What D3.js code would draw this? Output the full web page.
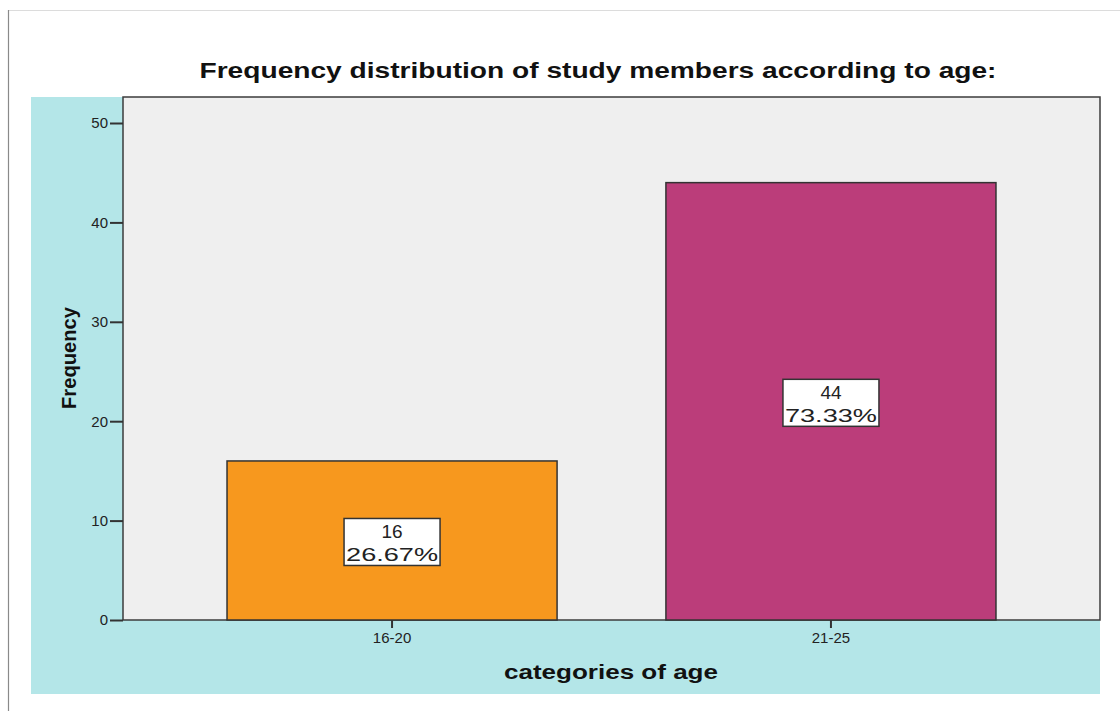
<!DOCTYPE html>
<html><head><meta charset="utf-8">
<script src="https://cdn.jsdelivr.net/npm/d3@7"></script>
<style>html,body{margin:0;padding:0;background:#fff;}svg{display:block;}</style>
</head><body>
<script>
const categories = ["16-20", "21-25"];
const counts = [16, 44];
const percents = ["26.67%", "73.33%"];
const barColors = ["#f7981e", "#bb3d7a"];
const yTicks = [0, 10, 20, 30, 40, 50];
const titleText = "Frequency distribution of study members according to age:";
const xLabel = "categories of age";
const yLabel = "Frequency";

const W = 1120, H = 711;
const svg = d3.select("body").append("svg").attr("width", W).attr("height", H);
const font = "Liberation Sans, Arial, sans-serif";

// outer frame lines
svg.append("line").attr("x1", 8).attr("x2", W).attr("y1", 10.5).attr("y2", 10.5).attr("stroke", "#dcdcdc").attr("stroke-width", 1);
svg.append("line").attr("x1", 8.5).attr("x2", 8.5).attr("y1", 10).attr("y2", H).attr("stroke", "#8a8a8a").attr("stroke-width", 1.2);

// cyan background
svg.append("rect").attr("x", 31).attr("y", 97).attr("width", 1100 - 31).attr("height", 694 - 97).attr("fill", "#b4e6e8");

const plot = {l: 123, r: 1100, t: 97, b: 620};
const y = d3.scaleLinear().domain([0, 50]).range([620, 123]);
const x = d3.scaleBand().domain(categories).range([plot.l, plot.r]).paddingInner(0.248).paddingOuter(0.237);

// plot area
svg.append("rect").attr("x", plot.l).attr("y", plot.t).attr("width", plot.r - plot.l).attr("height", plot.b - plot.t)
  .attr("fill", "#efefef").attr("stroke", "#3c3c3c").attr("stroke-width", 1.5);

// bars
svg.selectAll("rect.bar").data(categories).enter().append("rect").attr("class", "bar")
  .attr("x", d => x(d)).attr("width", x.bandwidth())
  .attr("y", (d, i) => y(counts[i])).attr("height", (d, i) => y(0) - y(counts[i]))
  .attr("fill", (d, i) => barColors[i]).attr("stroke", "#333").attr("stroke-width", 1.5);

// labels
categories.forEach((c, i) => {
  const cx = x(c) + x.bandwidth() / 2;
  const cy = (y(counts[i]) + y(0)) / 2;
  const g = svg.append("g");
  g.append("rect").attr("x", cx - 48).attr("y", cy - 22).attr("width", 96).attr("height", 47)
    .attr("fill", "#fff").attr("stroke", "#333").attr("stroke-width", 1.5);
  g.append("text").attr("x", cx).attr("y", cy - 2).attr("text-anchor", "middle")
    .attr("font-family", font).attr("font-size", 19).attr("fill", "#222").text(counts[i]);
  g.append("text").attr("x", cx).attr("y", cy + 20.5).attr("text-anchor", "middle")
    .attr("font-family", font).attr("font-size", 19).attr("fill", "#222")
    .attr("textLength", 92).attr("lengthAdjust", "spacingAndGlyphs").text(percents[i]);
});

// y axis
const yAxis = d3.axisLeft(y).tickValues(yTicks).tickSize(13).tickPadding(2);
const gy = svg.append("g").attr("transform", `translate(${plot.l},0)`).call(yAxis);
gy.select(".domain").remove();
gy.selectAll("line").attr("stroke", "#333").attr("stroke-width", 2);
gy.selectAll("text").attr("font-family", font).attr("font-size", 15).attr("fill", "#222");

// x axis
const xAxis = d3.axisBottom(x).tickSize(8).tickPadding(4);
const gx = svg.append("g").attr("transform", `translate(0,${plot.b})`).call(xAxis);
gx.select(".domain").remove();
gx.selectAll("line").attr("stroke", "#333").attr("stroke-width", 2);
gx.selectAll("text").attr("font-family", font).attr("font-size", 15).attr("fill", "#222");

// title
svg.append("text").attr("x", 598).attr("y", 78).attr("text-anchor", "middle")
  .attr("font-family", font).attr("font-weight", "bold").attr("font-size", 22).attr("fill", "#111")
  .attr("textLength", 797).attr("lengthAdjust", "spacingAndGlyphs").text(titleText);

// x label
svg.append("text").attr("x", 611).attr("y", 679).attr("text-anchor", "middle")
  .attr("font-family", font).attr("font-weight", "bold").attr("font-size", 20).attr("fill", "#111")
  .attr("textLength", 214).attr("lengthAdjust", "spacingAndGlyphs").text(xLabel);

// y label
svg.append("text").attr("transform", "translate(76,358) rotate(-90)").attr("text-anchor", "middle")
  .attr("font-family", font).attr("font-weight", "bold").attr("font-size", 20).attr("fill", "#111")
  .attr("textLength", 102).attr("lengthAdjust", "spacingAndGlyphs").text(yLabel);
</script>
</body></html>
